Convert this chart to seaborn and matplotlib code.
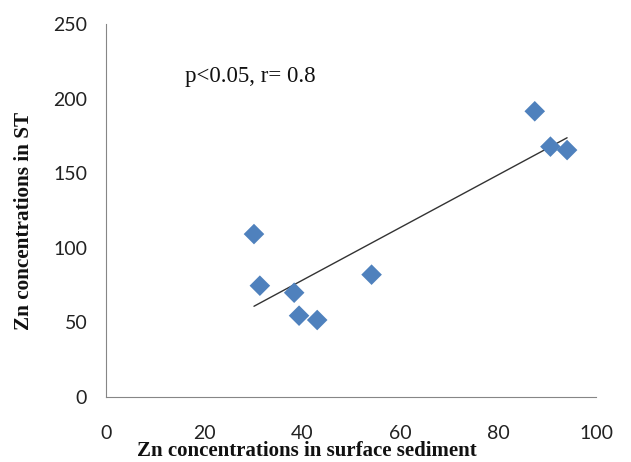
import matplotlib
matplotlib.use("Agg")
import matplotlib.pyplot as plt
import seaborn as sns
import pandas as pd

sediment = [30.2, 31.4, 38.4, 39.4, 43.1, 54.2, 87.5, 90.7, 94.1]
st = [109.2, 74.6, 69.9, 54.5, 51.6, 82.0, 191.5, 167.8, 165.5]
x_ticks = [0, 20, 40, 60, 80, 100]
y_ticks = [0, 50, 100, 150, 200, 250]
annotation = "p<0.05, r= 0.8"

df = pd.DataFrame({"sediment": sediment, "st": st})

sns.set_style("white")
fig = plt.figure(figsize=(6.31, 4.62), dpi=100)
ax = fig.add_axes([106/631, 65/462, 490/631, 373/462])

sns.regplot(data=df, x="sediment", y="st", ax=ax, ci=None, scatter=False,
            line_kws=dict(color="#333333", lw=1.0))
sns.scatterplot(data=df, x="sediment", y="st", ax=ax, marker="D", s=110,
                color="#4F81BD", edgecolor="none", zorder=3)

ax.set_xlim(0, 100)
ax.set_ylim(0, 250)
ax.set_xticks(x_ticks)
ax.set_yticks(y_ticks)
ax.set_xticklabels([str(v) for v in x_ticks], fontfamily="Lato", fontsize=14, color="#222222")
ax.set_yticklabels([str(v) for v in y_ticks], fontfamily="Lato", fontsize=14, color="#222222")
ax.tick_params(axis="both", direction="out", length=4.5, width=0.8, color="#868686")
ax.tick_params(axis="x", pad=16)
ax.tick_params(axis="y", pad=9)
for side in ["top", "right"]:
    ax.spines[side].set_visible(False)
for side in ["left", "bottom"]:
    ax.spines[side].set_color("#868686")
    ax.spines[side].set_linewidth(0.8)

ax.set_xlabel("Zn concentrations in surface sediment", fontfamily="Liberation Serif",
              fontweight="bold", fontsize=15, color="#111111")
ax.xaxis.set_label_coords(307/490 - 106/490, -0.158)
ax.xaxis.label.set_va("baseline")
ax.set_ylabel("Zn concentrations in ST", fontfamily="Liberation Serif",
              fontweight="bold", fontsize=15.3, color="#111111")
ax.yaxis.set_label_coords(-0.168, 0.472)
ax.yaxis.label.set_va("center")

ax.text(16.2, 215, annotation, fontfamily="Liberation Serif", fontsize=16.5,
        color="#111111", va="center", ha="left")

fig.savefig("out.png", dpi=100)
